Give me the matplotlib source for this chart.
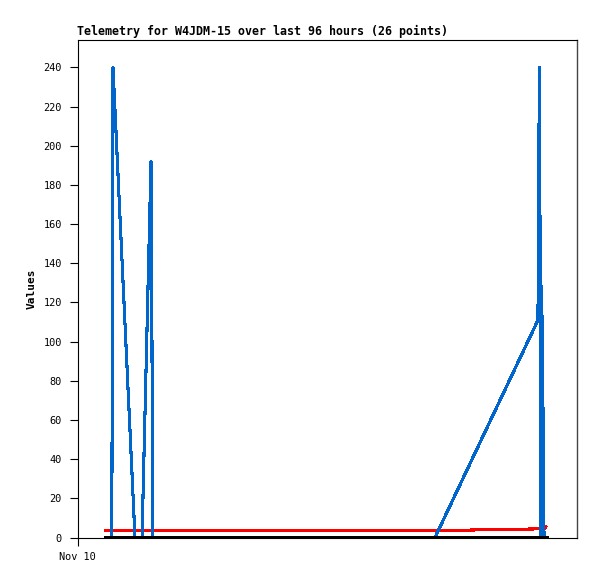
import matplotlib
matplotlib.use("Agg")
import matplotlib.pyplot as plt

# hours since Nov 10 00:00
hours = [5.48, 6.59, 6.71, 6.82, 11.05, 11.63, 12.40, 14.13, 14.32, 14.41,
         18.74, 23.54, 33.15, 42.76, 52.37, 61.98, 68.71, 88.50, 88.60, 88.79,
         89.08, 89.18, 89.37, 89.56, 89.66, 90.04]
blue_vals = [0, 0, 120, 240, 0, 0, 0, 192, 96, 0,
             0, 0, 0, 0, 0, 0, 0, 111, 176, 240,
             0, 128, 96, 32, 0, 0]
red_vals = [3.4, 3.4, 3.4, 3.4, 3.4, 3.4, 3.4, 3.4, 3.4, 3.4,
            3.4, 3.4, 3.4, 3.4, 3.4, 3.4, 3.5, 4.4, 4.4, 4.4,
            4.4, 4.4, 4.4, 4.4, 4.4, 5.6]
black_vals = [0] * len(hours)

y_ticks = list(range(0, 241, 20))
x_ticks = [0]
x_labels = ["Nov 10"]

mono = "DejaVu Sans Mono"

fig = plt.figure(figsize=(5.97, 5.79), dpi=100)
ax = fig.add_axes([77.5 / 597, 1 - 537.5 / 579, (577 - 77.5) / 597, (537.5 - 40) / 579])

ax.plot(hours, red_vals, color="#ff0000", lw=1.5, antialiased=False, zorder=2)
ax.plot(hours, blue_vals, color="#0066cc", lw=1.5, antialiased=False, zorder=3)
ax.plot(hours, black_vals, color="#000000", lw=2.2, antialiased=False, zorder=4)

ax.set_xlim(0, 96)
ax.set_ylim(0, 254)
ax.set_yticks(y_ticks)
ax.set_yticklabels([str(v) for v in y_ticks], fontfamily=mono, fontsize=7.4)
ax.set_xticks(x_ticks)
ax.set_xticklabels(x_labels, fontfamily=mono, fontsize=7.4)
ax.tick_params(axis="both", direction="out", length=5.8, width=0.8, color="black")
ax.tick_params(axis="y", pad=5.5)
ax.tick_params(axis="x", pad=5)

for side in ["left", "bottom", "top"]:
    ax.spines[side].set_linewidth(0.8)
    ax.spines[side].set_color("black")
ax.spines["right"].set_color("#444444")
ax.spines["right"].set_linewidth(1.0)

ax.set_ylabel("Values", fontfamily=mono, fontsize=8, fontweight="bold", labelpad=5)
fig.text(77 / 597, 1 - 35 / 579, "Telemetry for W4JDM-15 over last 96 hours (26 points)",
         fontfamily=mono, fontsize=8.4, fontweight="bold", ha="left", va="baseline")

fig.savefig("out.png", dpi=100, facecolor="white")
